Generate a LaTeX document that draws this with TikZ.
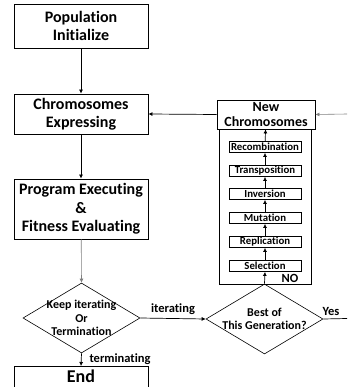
\documentclass[tikz,border=0pt]{standalone}
\usepackage{fontspec}
\setmainfont{Carlito}[Ligatures=NoCommon]
\usetikzlibrary{shapes.geometric,arrows.meta}

\begin{document}
\begin{tikzpicture}[x=1pt,y=-1pt,
  box/.style={draw, line width=0.8pt, minimum width=134pt, inner sep=0pt, align=center,
    font=\bfseries\fontsize{16}{18.5}\selectfont},
  opbox/.style={draw, line width=0.8pt, minimum width=72pt, minimum height=11pt, inner sep=0pt,
    font=\bfseries\fontsize{10.8}{11}\selectfont},
  decision/.style={draw, diamond, line width=0.6pt, minimum width=117pt, minimum height=70pt, inner sep=0pt},
  dtext/.style={align=center, font=\bfseries\fontsize{12}{13.5}\selectfont},
  lbl/.style={font=\bfseries\fontsize{12.5}{14}\selectfont},
  arr/.style={-{Latex[length=4pt,width=4pt]}, line width=0.7pt},
  softarr/.style={arr, draw=gray, line width=0.6pt},
]
\useasboundingbox (0,0) rectangle (347,387);
\clip (0,0) rectangle (347,387);

% main column
\node[box, minimum height=44pt] (pop) at (81,26) {Population\\Initialize};
\node[box, minimum height=40pt] (expr) at (81,114) {Chromosomes\\Expressing};
\node[box, minimum height=60pt] (exec) at (81,209) {Program Executing\\\&\\Fitness Evaluating};
\node[decision] (keep) at (81.5,318) {};
\node[dtext] (keeptxt) at (keep.center) {Keep iterating\\Or\\Termination};
\node[box, anchor=north, inner ysep=3pt, minimum height=40pt, text depth=24pt,
  font=\bfseries\fontsize{18}{20}\selectfont] (endbox) at (81,366) {End};

% genetic operators
\node[draw, line width=0.8pt, minimum width=92pt, minimum height=155pt, inner sep=0pt] (ops) at (265,206.5) {};
\node[draw, line width=0.8pt, minimum width=98pt, minimum height=29pt, inner sep=0pt, align=center,
  font=\bfseries\fontsize{14}{15.5}\selectfont] (newc) at (266,114.5) {New\\Chromosomes};
\node[opbox] (recomb) at (265,147) {Recombination};
\node[opbox] (transp) at (265,171) {Transposition};
\node[opbox] (inver) at (265,194) {Inversion};
\node[opbox] (mutat) at (265,218) {Mutation};
\node[opbox] (repl) at (265,242) {Replication};
\node[opbox] (selec) at (265,266) {Selection};
\node[decision] (best) at (264.5,319) {};
\node[dtext] (besttxt) at (best.center) {Best of\\This Generation?};

\coordinate (rin) at (347,114);
\coordinate (yout) at (347,318.5);

% connectors
\draw[arr] (pop) -- (expr);
\draw[arr] (expr) -- (exec);
\draw[softarr] (exec) -- (keep.north);
\draw[arr] (keep.south) -- (endbox.north);
\node[lbl, anchor=west] (termlbl) at (86,359) {terminating};
\draw[arr] (keep.east) -- node[lbl, above=0pt] (iterlbl) {iterating} (best.west);
\draw[arr] (best.north) -- (selec.south);
\node[lbl] (nolbl) at (290,278) {NO};
\draw[arr] (selec) -- (repl);
\draw[arr] (repl) -- (mutat);
\draw[arr] (mutat) -- (inver);
\draw[arr] (inver) -- (transp);
\draw[arr] (transp) -- (recomb);
\draw[arr] (recomb) -- (newc);
\draw[arr] (newc.west) -- (expr.east);
\draw[softarr] (rin) -- (newc.east);
\draw[line width=0.7pt] (best.east) -- (yout);
\node[lbl] (yeslbl) at (331,311) {Yes};
\end{tikzpicture}
\end{document}
